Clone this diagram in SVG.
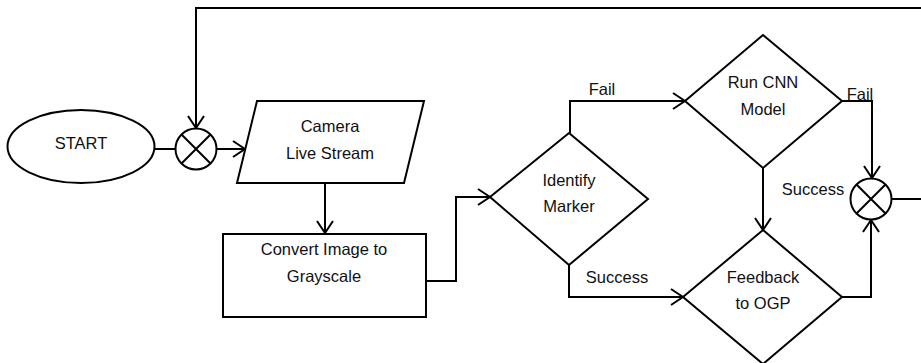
<svg xmlns="http://www.w3.org/2000/svg" width="921" height="363" viewBox="0 0 921 363">
<style>
.s{fill:#fff;stroke:#000;stroke-width:2}
.c{fill:none;stroke:#000;stroke-width:2}
text{font-family:"Liberation Sans",Arial,sans-serif;font-size:16.5px;fill:#111;text-anchor:middle}
</style>
<defs>
<marker id="arr" viewBox="0 0 14 18" refX="13" refY="9" markerWidth="14" markerHeight="18" orient="auto" markerUnits="userSpaceOnUse">
<path d="M1,1 L13,9 L1,17" fill="none" stroke="#000" stroke-width="2"/>
</marker>
</defs>
<rect width="921" height="363" fill="#fff"/>
<g id="connectors">
<path class="c" d="M154,149 H176"/>
<path class="c" d="M217,149 H245" marker-end="url(#arr)"/>
<path class="c" d="M892,199 H925 V8 H196 V128" marker-end="url(#arr)"/>
<path class="c" d="M325,183 V233" marker-end="url(#arr)"/>
<path class="c" d="M426,281 H456 V197 H490" marker-end="url(#arr)"/>
<path class="c" d="M570,133 V101 H685" marker-end="url(#arr)"/>
<path class="c" d="M842,101 H872 V178" marker-end="url(#arr)"/>
<path class="c" d="M763,168 V230" marker-end="url(#arr)"/>
<path class="c" d="M569,265 V297 H683" marker-end="url(#arr)"/>
<path class="c" d="M842,297 H871 V220" marker-end="url(#arr)"/>
<text x="602" y="95">Fail</text>
<text x="860" y="100">Fail</text>
<text x="813" y="195">Success</text>
<text x="617" y="283">Success</text>
</g>
<g id="start">
<ellipse class="s" cx="81" cy="146.5" rx="73.5" ry="36.5"/>
<text x="81" y="149">START</text>
</g>
<g id="junction1">
<circle class="s" cx="196" cy="149" r="20.5"/>
<path class="c" d="M181.5,134.5 L210.5,163.5 M210.5,134.5 L181.5,163.5"/>
</g>
<g id="camera">
<polygon class="s" points="257,101 424,101 404,183 237,183"/>
<text x="330" y="132">Camera</text>
<text x="330" y="159">Live Stream</text>
</g>
<g id="convert">
<rect class="s" x="223" y="234" width="203" height="83"/>
<text x="324" y="255">Convert Image to</text>
<text x="324" y="282">Grayscale</text>
</g>
<g id="identify">
<polygon class="s" points="569,133 648,199 569,265 490,197"/>
<text x="569" y="186">Identify</text>
<text x="569" y="212">Marker</text>
</g>
<g id="runcnn">
<polygon class="s" points="763,35 842,101 763,168 685,101"/>
<text x="763" y="88">Run CNN</text>
<text x="763" y="115">Model</text>
</g>
<g id="feedback">
<polygon class="s" points="763,230 842,297 763,364 683,297"/>
<text x="763" y="283">Feedback</text>
<text x="763" y="309">to OGP</text>
</g>
<g id="junction2">
<circle class="s" cx="871" cy="199" r="20.5"/>
<path class="c" d="M856.5,184.5 L885.5,213.5 M885.5,184.5 L856.5,213.5"/>
</g>
</svg>
